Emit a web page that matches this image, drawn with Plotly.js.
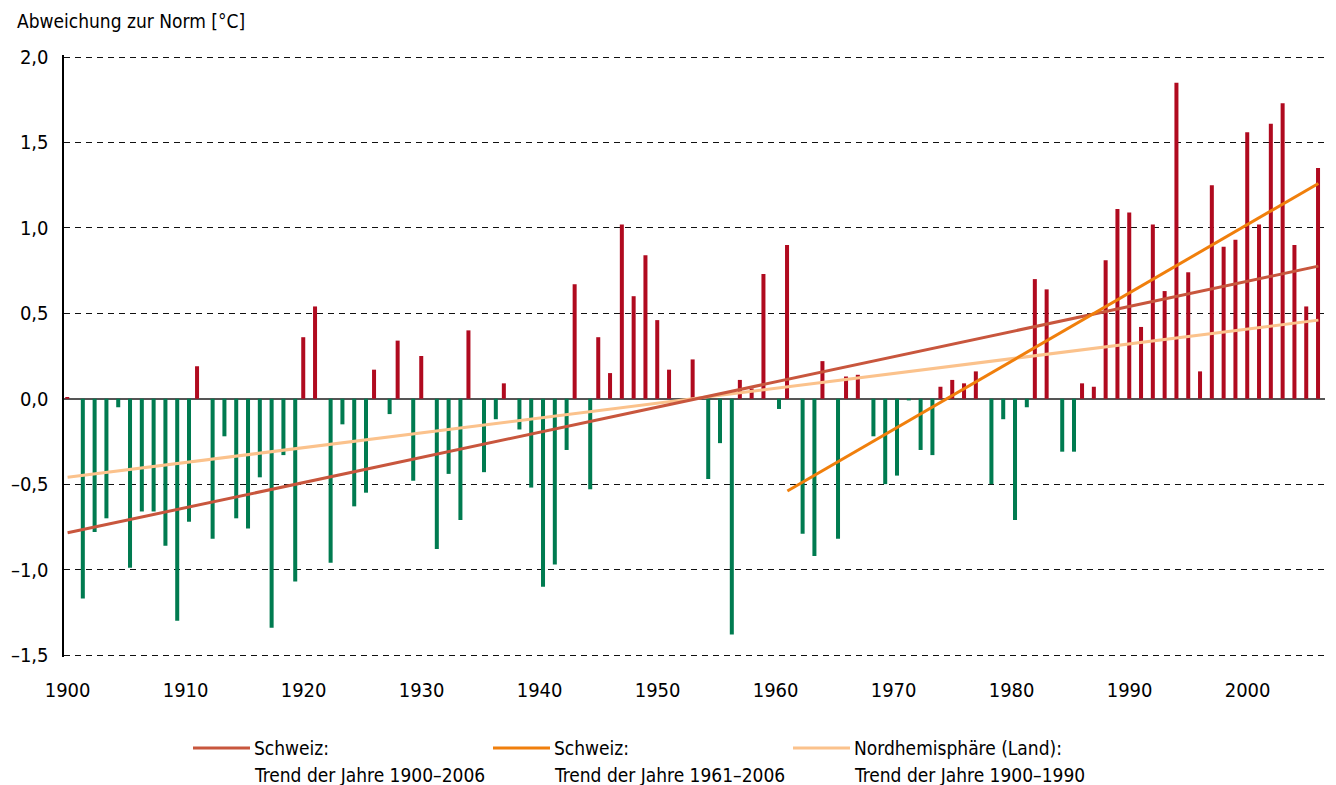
<!DOCTYPE html>
<html><head><meta charset="utf-8">
<script src="https://cdn.plot.ly/plotly-3.0.1.min.js"></script>
<style>html,body{margin:0;padding:0;background:#fff}#chart{width:1336px;height:785px}</style>
</head><body><div id="chart"></div>
<script>
const years = [
 1900,1901,1902,1903,1904,1905,1906,1907,1908,1909,
 1910,1911,1912,1913,1914,1915,1916,1917,1918,1919,
 1920,1921,1922,1923,1924,1925,1926,1927,1928,1929,
 1930,1931,1932,1933,1934,1935,1936,1937,1938,1939,
 1940,1941,1942,1943,1944,1945,1946,1947,1948,1949,
 1950,1951,1952,1953,1954,1955,1956,1957,1958,1959,
 1960,1961,1962,1963,1964,1965,1966,1967,1968,1969,
 1970,1971,1972,1973,1974,1975,1976,1977,1978,1979,
 1980,1981,1982,1983,1984,1985,1986,1987,1988,1989,
 1990,1991,1992,1993,1994,1995,1996,1997,1998,1999,
 2000,2001,2002,2003,2004,2005,2006];
const anomaly = [
  0.01,-1.17,-0.78,-0.70,-0.05,-0.99,-0.66,-0.66,-0.86,-1.30,
 -0.72, 0.19,-0.82,-0.22,-0.70,-0.76,-0.46,-1.34,-0.33,-1.07,
  0.36, 0.54,-0.96,-0.15,-0.63,-0.55, 0.17,-0.09, 0.34,-0.48,
  0.25,-0.88,-0.44,-0.71, 0.40,-0.43,-0.12, 0.09,-0.18,-0.52,
 -1.10,-0.97,-0.30, 0.67,-0.53, 0.36, 0.15, 1.02, 0.60, 0.84,
  0.46, 0.17, 0.00, 0.23,-0.47,-0.26,-1.38, 0.11, 0.06, 0.73,
 -0.06, 0.90,-0.79,-0.92, 0.22,-0.82, 0.13, 0.14,-0.22,-0.50,
 -0.45,-0.01,-0.30,-0.33, 0.07, 0.11, 0.09, 0.16,-0.50,-0.12,
 -0.71,-0.05, 0.70, 0.64,-0.31,-0.31, 0.09, 0.07, 0.81, 1.11,
  1.09, 0.42, 1.02, 0.63, 1.85, 0.74, 0.16, 1.25, 0.89, 0.93,
  1.56, 1.02, 1.61, 1.73, 0.90, 0.54, 1.35];

const trendCH_years = [1900, 2006];
const trendCH_values = [-0.785, 0.776];
const trendCH61_years = [1961, 2006];
const trendCH61_values = [-0.54, 1.26];
const trendNH_years = [1900, 2006];
const trendNH_values = [-0.46, 0.46];

const legendLine1 = ['Schweiz:', 'Schweiz:', 'Nordhemisphäre (Land):'];
const legendLine2 = ['Trend der Jahre 1900–2006', 'Trend der Jahre 1961–2006', 'Trend der Jahre 1900–1990'];

const xTickVals = [1900,1910,1920,1930,1940,1950,1960,1970,1980,1990,2000];
const xTickText = ['1900','1910','1920','1930','1940','1950','1960','1970','1980','1990','2000'];
const yTickVals = [-1.5,-1,-0.5,0,0.5,1,1.5,2];
const yTickText = ['–1,5','–1,0','–0,5','0,0','0,5','1,0','1,5','2,0'];
const yTitle = 'Abweichung zur Norm [°C]';

const FONT = 'Liberation Sans Narrow, Arial Narrow, DejaVu Sans Condensed, sans-serif';
const FS = 19;
const colWarm = '#b00a1f', colCold = '#007b50';
const colCH = '#c8563d', colCH61 = '#f07f0c', colNH = '#fbc28c';

const warmX = [], warmY = [], coldX = [], coldY = [];
years.forEach((yr, i) => {
  if (anomaly[i] >= 0) { warmX.push(yr); warmY.push(anomaly[i]); }
  else { coldX.push(yr); coldY.push(anomaly[i]); }
});

const traces = [
 {type:'bar', x:warmX, y:warmY, width:0.34, offset:-0.2, marker:{color:colWarm, line:{width:0}}, showlegend:false},
 {type:'bar', x:coldX, y:coldY, width:0.34, offset:0.12, marker:{color:colCold, line:{width:0}}, showlegend:false},
 {type:'scatter', mode:'lines', x:trendNH_years, y:trendNH_values, line:{color:colNH, width:3}, name:legendLine1[2] + ' ' + legendLine2[2], showlegend:false},
 {type:'scatter', mode:'lines', x:trendCH_years, y:trendCH_values, line:{color:colCH, width:3}, name:legendLine1[0] + ' ' + legendLine2[0], showlegend:false},
 {type:'scatter', mode:'lines', x:trendCH61_years, y:trendCH61_values, line:{color:colCH61, width:3}, name:legendLine1[1] + ' ' + legendLine2[1], showlegend:false}
];

// plot area in px: left 64, right 1325, top 55, bottom 657 (range padded 2px so edge grid lines show)
const L = 64, R = 1325, T = 55, B = 657;
const px2x = p => (p - L) / (R - L);
const px2y = p => (B - p) / (B - T);

const legendCols = [colCH, colCH61, colNH];
const legendStart = [193, 493, 793];
const shapes = [], annotations = [];
const tf = {family:FONT, size:FS, color:'#000'};
legendStart.forEach((x0, i) => {
  shapes.push({type:'line', xref:'paper', yref:'paper', x0:px2x(x0), x1:px2x(x0+57), y0:px2y(748), y1:px2y(748), line:{color:legendCols[i], width:3}});
  annotations.push({xref:'paper', yref:'paper', x:px2x(x0+59), y:px2y(748), xanchor:'left', yanchor:'middle', align:'left', showarrow:false, text:legendLine1[i], font:tf});
  annotations.push({xref:'paper', yref:'paper', x:px2x(x0+59), y:px2y(775), xanchor:'left', yanchor:'middle', align:'left', showarrow:false, text:legendLine2[i], font:tf});
});
annotations.push({xref:'paper', yref:'paper', x:px2x(15), y:px2y(21), xanchor:'left', yanchor:'middle', showarrow:false, text:yTitle, font:tf});

const pad = 2 / 170.9;
const layout = {
  width:1336, height:785,
  margin:{l:L, r:1336-R, t:T, b:785-B, pad:0},
  paper_bgcolor:'#fff', plot_bgcolor:'#fff',
  font:tf,
  barmode:'overlay',
  showlegend:false,
  xaxis:{range:[1899.695, 2006.56], tickvals:xTickVals, ticktext:xTickText, showgrid:false, zeroline:false, showline:false, ticks:'', ticklabelstandoff:19, tickfont:{family:FONT, size:20, color:'#000'}, fixedrange:true},
  yaxis:{range:[-1.5 - pad, 2.0 + pad], tickvals:yTickVals, ticktext:yTickText, showgrid:true, gridcolor:'#111', gridwidth:1, griddash:'6px,5px', zeroline:true, zerolinecolor:'#555', zerolinewidth:2, showline:true, linecolor:'#000', linewidth:2.5, ticks:'', ticklabelstandoff:9, tickfont:{family:FONT, size:20, color:'#000'}, fixedrange:true},
  shapes:shapes, annotations:annotations
};

Plotly.newPlot('chart', traces, layout, {displayModeBar:false, staticPlot:true});
</script></body></html>
